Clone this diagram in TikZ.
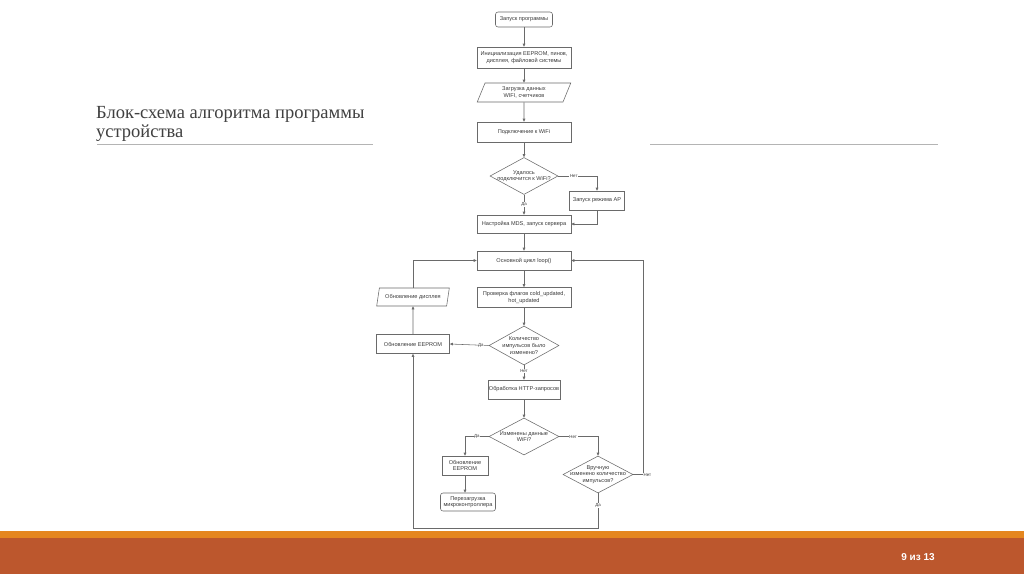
\documentclass[tikz,border=0pt]{standalone}
\usepackage{fontspec}
\setmainfont{Liberation Serif}
\newfontfamily\flowfont{Liberation Sans}
\usetikzlibrary{shapes.geometric,arrows.meta}
\definecolor{lc}{HTML}{6A6A6A}
\definecolor{tc}{HTML}{3A3A3A}
\definecolor{barorange}{HTML}{E5861F}
\definecolor{barbrick}{HTML}{BC572D}
\definecolor{rulegray}{HTML}{B4B4B4}
\definecolor{titlegray}{HTML}{404040}
\begin{document}
\begin{tikzpicture}[x=1pt,y=-1pt,
  box/.style={draw=lc, line width=0.55pt, fill=white, text=tc, align=center,
    font=\flowfont\fontsize{5.6}{6.6}\selectfont, inner sep=0.5pt},
  rbox/.style={box, rounded corners=2.5pt},
  para/.style={box, trapezium, trapezium left angle=70, trapezium right angle=110,
    trapezium stretches=true},
  dia/.style={draw=lc, line width=0.55pt, fill=white, diamond, inner sep=0pt},
  dtext/.style={text=tc, align=center, font=\flowfont\fontsize{5.6}{6.6}\selectfont, inner sep=0pt},
  arr/.style={draw=lc, line width=0.55pt, -{Triangle[length=3pt,width=2.6pt]}},
  lbl/.style={fill=white, text=tc, font=\flowfont\fontsize{4.4}{5}\selectfont, inner sep=0.6pt}
]
\useasboundingbox (0,0) rectangle (1024,574);
\fill[white] (0,0) rectangle (1024,574);
\fill[barorange] (0,531) rectangle (1024,537.5);
\fill[barbrick] (0,537.5) rectangle (1024,574);

% title
\node[anchor=base west, align=left, text=titlegray, inner sep=0pt,
  font=\fontsize{18.5}{19}\selectfont] (title) at (96,137)
  {Блок-схема алгоритма программы\\устройства};
\draw[rulegray, line width=0.8pt] (97,144) -- (373,144);
\draw[rulegray, line width=0.8pt] (650,144) -- (938,144);

% page number
\node[text=white, font=\flowfont\fontsize{10}{12}\selectfont\bfseries, inner sep=0pt] (pg) at (918,557) {9 из 13};

% nodes
\node[rbox, minimum width=57, minimum height=15] (n1) at (524,19.5) {Запуск программы};
\node[box, minimum width=94, minimum height=21] (n2) at (524,57.5) {Инициализация EEPROM, пинов,\\дисплея, файловой системы};
\node[para, minimum width=94, minimum height=19] (n3) at (524,92.5) {Загрузка данных\\WIFI, счетчиков};
\node[box, minimum width=94, minimum height=20] (n4) at (524,132) {Подключение к WiFi};
\node[dia, minimum width=68, minimum height=37] (n5) at (524,176) {};
\node[dtext] (n5t) at (n5) {Удалось\\подключится к WiFi?};
\node[box, minimum width=55, minimum height=19] (n6) at (597,200.5) {Запуск режима AP};
\node[box, minimum width=94, minimum height=18] (n7) at (524,224) {Настройка MDS, запуск сервера};
\node[box, minimum width=94, minimum height=19] (n8) at (524,260.5) {Основной цикл loop()};
\node[box, minimum width=94, minimum height=20] (n9) at (524,297.5) {Проверка флагов cold\_updated,\\hot\_updated};
\node[dia, minimum width=70, minimum height=39] (n10) at (524,345.5) {};
\node[dtext] (n10t) at (n10) {Количество\\импульсов было\\изменено?};
\node[box, minimum width=73, minimum height=19] (n11) at (413,344) {Обновление EEPROM};
\node[para, minimum width=73, minimum height=18] (n12) at (413,297) {Обновление дисплея};
\node[box, minimum width=72, minimum height=19] (n13) at (524,389.5) {Обработка HTTP-запросов};
\node[dia, minimum width=70, minimum height=37] (n14) at (524,436.5) {};
\node[dtext] (n14t) at (n14) {Изменены данные\\WiFi?};
\node[box, minimum width=46, minimum height=19] (n15) at (465,465.5) {Обновление\\EEPROM};
\node[rbox, minimum width=55, minimum height=18] (n16) at (468,502) {Перезагрузка\\микроконтроллера};
\node[dia, minimum width=70, minimum height=37] (n17) at (598,474.5) {};
\node[dtext] (n17t) at (n17) {Вручную\\изменено количество\\импульсов?};

\coordinate (c1) at (643,474.5);
\coordinate (c2) at (598,528);

% connectors
\draw[arr] (n1) -- (n2);
\draw[arr] (n2) -- (n3);
\draw[arr] (n3) -- (n4);
\draw[arr] (n4) -- (n5);
\draw[arr] (n5.east) -| node[lbl, pos=0.2] {Нет} (n6.north);
\draw[arr] (n5.south) -- node[lbl, pos=0.5] {Да} (n7.north);
\draw[arr] (n6.south) |- (n7.east);
\draw[arr] (n7) -- (n8);
\draw[arr] (n8) -- (n9);
\draw[arr] (n9) -- (n10);
\draw[arr] (n10.west) -- node[lbl, pos=0.2] {Да} (n11.east);
\draw[arr] (n10.south) -- node[lbl, pos=0.4] {Нет} (n13.north);
\draw[arr] (n11.north) -- (n12.south);
\draw[arr] (n12.north) |- (n8.west);
\draw[arr] (n13) -- (n14);
\draw[arr] (n14.west) -| node[lbl, pos=0.25] {Да} (n15.north);
\draw[arr] (n15.south) -- (n15.south |- n16.north);
\draw[arr] (n14.east) -| node[lbl, pos=0.18] {Нет} (n17.north);
\draw[arr] (n17.east) -- (c1) node[lbl, anchor=west, inner sep=0.3pt] {Нет} |- (n8.east);
\draw[arr] (n17.south) -- node[lbl, pos=0.35] {Да} (c2) -| (n11.south);
\end{tikzpicture}
\end{document}
